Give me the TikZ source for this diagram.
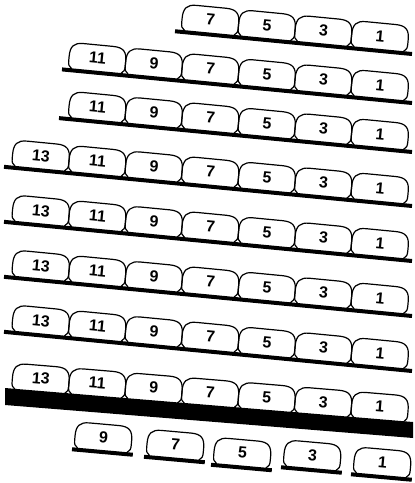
\documentclass[tikz,border=0pt]{standalone}
\usepackage{fontspec}
\setmainfont{Liberation Sans}
\usetikzlibrary{calc}
\def\seatw{56.8}
\tikzset{
  seatedge/.style={line width=1.2pt,line cap=round,line join=round},
  rowline/.style={line width=4pt},
  seatnum/.style={font=\fontsize{16}{16}\selectfont\bfseries,inner sep=0pt,transform shape},
  seat/.pic={
    \draw[seatedge] (3.5,0) .. controls (0.6,-1.5) and (0,-4) .. (0,-7.5)
      -- (0,-12) .. controls (0,-22) and (3.5,-26) .. (13,-26)
      -- (\seatw-14,-26) .. controls (\seatw-3.5,-26) and (\seatw,-22) .. (\seatw,-12)
      -- (\seatw,-7.5) .. controls (\seatw,-4) and (\seatw-0.6,-1.5) .. (\seatw-3.5,0);
    \node[seatnum] (-n) at (\seatw/2,-13) {#1};
  }
}

\begin{document}
\begin{tikzpicture}[x=1pt,y=-1pt]
  \useasboundingbox (0,0) rectangle (415,483);

  % rows on thin lines
  \foreach \yR/\xa/\n [count=\r] in {54/175/4,103/62/6,152/59/6,206/4/7,261/4/7,316/4/7,371/4/7}{
    \pgfmathsetmacro{\ya}{\yR-0.096*(412-\xa)}
    \coordinate (row\r-l) at (\xa,\ya);
    \coordinate (row\r-r) at (412,\yR);
    \draw[rowline] (row\r-l) -- (row\r-r);
    \foreach \k in {1,...,\n}{
      \pgfmathsetmacro{\xl}{407-56.5*\k}
      \pgfmathsetmacro{\yl}{\yR-0.096*(412-\xl)-1.8}
      \pgfmathtruncatemacro{\num}{2*\k-1}
      \pic[rotate=-5.5] (seat\r-\k) at (\xl,\yl) {seat=\num};
    }
  }

  % front row on the thick bar
  \coordinate (bar-tl) at (5,388);
  \coordinate (bar-tr) at (413,422);
  \coordinate (bar-br) at (413,438);
  \coordinate (bar-bl) at (5,405);
  \fill (bar-tl) -- (bar-tr) -- (bar-br) -- (bar-bl) -- cycle;
  \foreach \k in {1,...,7}{
    \pgfmathsetmacro{\xl}{407-56.5*\k}
    \pgfmathsetmacro{\yl}{388+0.0833*(\xl-5)+0.5}
    \pgfmathtruncatemacro{\num}{2*\k-1}
    \pic[rotate=-4.76] (seat8-\k) at (\xl,\yl) {seat=\num};
  }

  % single seats
  \foreach \xl/\ym/\num in {74/452/9,146/459.5/7,213/467.5/5,283/470/3,353/477/1}{
    \coordinate (foot\num-l) at (\xl-2,\ym-0.09*30.4);
    \coordinate (foot\num-r) at (\xl+58.8,\ym+0.09*30.4);
    \draw[rowline] (foot\num-l) -- (foot\num-r);
    \pic[rotate=-5.1] (seat9-\num) at (\xl,\ym-0.09*28.4-1.8) {seat=\num};
  }
\end{tikzpicture}
\end{document}
